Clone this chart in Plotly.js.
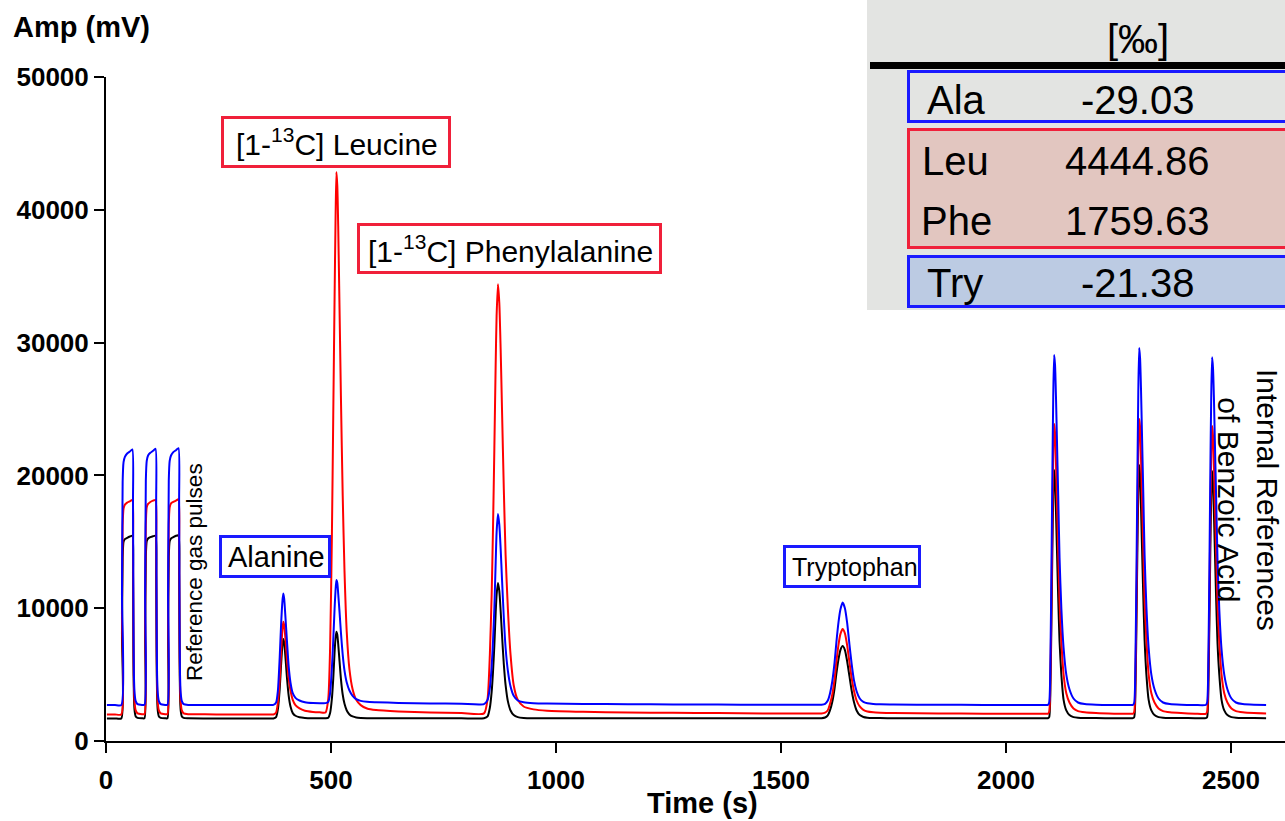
<!DOCTYPE html>
<html><head><meta charset="utf-8">
<script src="https://cdn.plot.ly/plotly-3.0.1.min.js"></script>
<style>html,body{margin:0;padding:0;background:#fff}</style>
</head><body><div id="chart" style="width:1285px;height:821px"></div>
<script>
// ---- data ----
const time = [
  2, 20,
  34, 35.5, 37, 39, 42, 47, 53, 58.5, 60, 61, 62, 63.5, 66, 70, 80,
  85.5, 87, 88.5, 90.5, 93.5, 98.5, 104.5, 110, 111.5, 112.5, 113.5, 115, 117.5, 121.5, 131.5,
  136.5, 138, 139.5, 141.5, 144.5, 149.5, 155.5, 161, 162.5, 163.5, 164.5, 166, 168.5, 172.5, 182.5,
  220, 270, 320, 366,
  372, 378, 382, 386, 389, 392, 394, 396, 399, 402, 406, 410, 415, 421, 430, 442, 460,
  475,
  488, 494, 498, 502, 505, 508, 510, 512, 514, 516, 519, 522, 526, 530, 535, 541, 548, 556, 566, 580, 600,
  650, 720, 790,
  840, 848, 853, 857, 860, 863, 866, 868, 871, 874, 877, 880, 884, 888, 893, 899, 906, 915, 928, 950, 980,
  1060, 1160, 1260, 1360, 1460, 1580,
  1590, 1598, 1604, 1609, 1614, 1619, 1623, 1628, 1632, 1637, 1642, 1647, 1652, 1657, 1662, 1668, 1675, 1683, 1692, 1705, 1720, 1750,
  1850, 1950, 2050, 2090,
  2093, 2096, 2099, 2101, 2103, 2105, 2107, 2109, 2111, 2113, 2116, 2119, 2123, 2128, 2134, 2141, 2150, 2160, 2175, 2200, 2240, 2280,
  2282, 2285, 2288, 2290, 2292, 2294, 2296, 2298, 2300, 2302, 2305, 2308, 2312, 2317, 2323, 2330, 2339, 2349, 2364, 2389, 2420,
  2444, 2447, 2450, 2452, 2454, 2456, 2458, 2460, 2462, 2464, 2467, 2470, 2474, 2479, 2485, 2492, 2501, 2511, 2526, 2551, 2578
];
const blue = [
  2720, 2710,
  2700, 11000, 19500, 21000, 21400, 21650, 21800, 21950, 18000, 9000, 5000, 3600, 3000, 2780, 2720,
  2720, 11000, 19600, 21100, 21500, 21700, 21850, 22000, 18000, 9000, 5000, 3600, 3000, 2780, 2720,
  2720, 11000, 19600, 21100, 21500, 21750, 21900, 22050, 18000, 9000, 5000, 3600, 3000, 2780, 2720,
  2720, 2710, 2710, 2710,
  2720, 2900, 3800, 6300, 8700, 10500, 11100, 10700, 9200, 7600, 5600, 4400, 3600, 3250, 3050, 2920, 2860,
  2850,
  2850, 2950, 3600, 5500, 7600, 10000, 11300, 12120, 11900, 11100, 9700, 8200, 6500, 5300, 4400, 3800, 3400, 3150, 3020, 2950, 2920,
  2870, 2830, 2800,
  2780, 3100, 4000, 5600, 7500, 10000, 13500, 15700, 17090, 16300, 14500, 12200, 9300, 7000, 5300, 4100, 3400, 3050, 2920, 2850, 2820,
  2790, 2770, 2750, 2740, 2730, 2730,
  2730, 2800, 3050, 3600, 4500, 5900, 7400, 9000, 9900, 10420, 10000, 8900, 7300, 5800, 4600, 3750, 3200, 2950, 2840, 2785, 2760, 2750,
  2730, 2720, 2710, 2710,
  2710, 2900, 7000, 13000, 20000, 26000, 29070, 28300, 26000, 23000, 18500, 13800, 10000, 7000, 5000, 3900, 3200, 2900, 2780, 2730, 2710, 2710,
  2710, 2900, 7000, 13000, 20000, 26300, 29590, 28800, 26500, 23400, 18800, 14000, 10100, 7000, 5000, 3900, 3200, 2900, 2780, 2730, 2710,
  2710, 2900, 7000, 13000, 20000, 25800, 28900, 28100, 25900, 22800, 18300, 13700, 9900, 6900, 5000, 3900, 3200, 2900, 2780, 2730, 2720
];
const red = [
  2000, 2000,
  2000, 9500, 16200, 17500, 17800, 17950, 18050, 18150, 14800, 7500, 4200, 2900, 2300, 2080, 2020,
  2020, 9500, 16300, 17600, 17850, 18000, 18100, 18150, 14800, 7500, 4200, 2900, 2300, 2080, 2020,
  2020, 9500, 16300, 17600, 17900, 18000, 18100, 18200, 14800, 7500, 4200, 2900, 2300, 2080, 2020,
  2010, 2000, 2000, 2000,
  2000, 2150, 2900, 4600, 6600, 8400, 8980, 8700, 7600, 6200, 4700, 3800, 3100, 2700, 2450, 2280, 2190,
  2160,
  2150, 3200, 7000, 15500, 24500, 33500, 39000, 42850, 41800, 38800, 32500, 26000, 18500, 12800, 8200, 5400, 3900, 3100, 2700, 2450, 2330,
  2230, 2150, 2100,
  2080, 3200, 6500, 11000, 16000, 22000, 28500, 32000, 34400, 33000, 29500, 25000, 19000, 14000, 10000, 6500, 4200, 3100, 2600, 2380, 2280,
  2200, 2150, 2120, 2100, 2080, 2070,
  2070, 2140, 2320, 2800, 3500, 4650, 5950, 7300, 8050, 8430, 8100, 7200, 5950, 4750, 3800, 3050, 2600, 2350, 2220, 2160, 2130, 2100,
  2080, 2060, 2050, 2050,
  2050, 2200, 5500, 10500, 16500, 21300, 23870, 23200, 21000, 18300, 14300, 10500, 7500, 5000, 3600, 2900, 2450, 2250, 2160, 2100, 2060, 2050,
  2050, 2200, 5500, 10600, 16700, 21600, 24250, 23600, 21300, 18600, 14500, 10600, 7600, 5000, 3600, 2900, 2450, 2250, 2160, 2100, 2060,
  2050, 2200, 5500, 10500, 16400, 21100, 23720, 23000, 20800, 18100, 14200, 10400, 7400, 5000, 3600, 2900, 2450, 2250, 2160, 2100, 2080
];
const black = [
  1700, 1700,
  1700, 8000, 13800, 15000, 15200, 15300, 15400, 15450, 12500, 6200, 3400, 2300, 1850, 1740, 1710,
  1710, 8000, 13900, 15050, 15250, 15350, 15420, 15450, 12500, 6200, 3400, 2300, 1850, 1740, 1710,
  1710, 8000, 13900, 15050, 15250, 15350, 15450, 15480, 12500, 6200, 3400, 2300, 1850, 1740, 1710,
  1700, 1700, 1700, 1700,
  1700, 1800, 2400, 3900, 5700, 7200, 7680, 7400, 6200, 4800, 3400, 2600, 2100, 1900, 1790, 1740, 1720,
  1715,
  1715, 1750, 2100, 3200, 4700, 6700, 7700, 8230, 8000, 7300, 6000, 4700, 3500, 2800, 2300, 2000, 1850, 1770, 1735, 1720, 1715,
  1712, 1710, 1710,
  1710, 1850, 2500, 3700, 5200, 7200, 9700, 11000, 11900, 11300, 9800, 8000, 5800, 4200, 3000, 2300, 1950, 1800, 1740, 1720, 1715,
  1715, 1715, 1715, 1715, 1715, 1715,
  1715, 1770, 1930, 2320, 2950, 3950, 5050, 6200, 6850, 7150, 6850, 6000, 4900, 3800, 2950, 2300, 1950, 1810, 1755, 1732, 1725, 1720,
  1720, 1715, 1715, 1715,
  1715, 1800, 4600, 9000, 14300, 18400, 20400, 19600, 17300, 14700, 10800, 7500, 5000, 3100, 2300, 1950, 1800, 1750, 1730, 1725, 1720, 1720,
  1720, 1800, 4600, 9100, 14500, 18700, 20780, 20000, 17600, 14900, 11000, 7600, 5000, 3100, 2300, 1950, 1800, 1750, 1730, 1725, 1720,
  1720, 1800, 4600, 9000, 14200, 18300, 20330, 19500, 17200, 14600, 10700, 7400, 5000, 3100, 2300, 1950, 1800, 1750, 1730, 1725, 1720
];
const xTickVals = [0, 500, 1000, 1500, 2000, 2500];
const yTickVals = [0, 10000, 20000, 30000, 40000, 50000];
const tableHeader = '[‰]';
const tableNames = ['Ala', 'Leu', 'Phe', 'Try'];
const tableValues = ['-29.03', '4444.86', '1759.63', '-21.38'];
const peakNames = ['[1-<sup>13</sup>C] Leucine', '[1-<sup>13</sup>C] Phenylalanine', 'Alanine', 'Tryptophan'];

// ---- layout helpers (pixel -> paper) ----
const L = 106, R = 1285, T = 77, B = 741;
const px = x => (x - L) / (R - L);
const py = y => (B - y) / (B - T);
const FONT = 'Liberation Sans, Arial, sans-serif';
const RED = '#f0203a', BLUE = '#1a1aff';

function rect(x0, y0, x1, y1, fill, line, lw) {
  return {type: 'rect', xref: 'paper', yref: 'paper', x0: px(x0), x1: px(x1), y0: py(y1), y1: py(y0),
    fillcolor: fill, line: {color: line || fill, width: lw || 0}, layer: 'above'};
}
function text(t, x, y, size, opts) {
  return Object.assign({text: t, xref: 'paper', yref: 'paper', x: px(x), y: py(y), showarrow: false,
    xanchor: 'center', yanchor: 'middle', font: {family: FONT, size: size, color: '#000'}}, opts || {});
}

const mk = (y, color) => ({x: time, y: y, type: 'scatter', mode: 'lines',
  line: {color: color, width: 2, shape: 'spline', smoothing: 0.6}, hoverinfo: 'skip'});
const traces = [mk(black, '#000000'), mk(red, '#ff0000'), mk(blue, '#0000ff')];

const shapes = [
  rect(867, 0, 1290, 310, '#e3e4e2'),
  rect(870, 62, 1290, 69, '#000000'),
  rect(908.5, 71.5, 1290, 121.5, '#e3e4e2', BLUE, 3),
  rect(908.5, 129.5, 1290, 247.5, '#e2c6c0', RED, 3),
  rect(908.5, 256.5, 1290, 306.5, '#bccbe3', BLUE, 3),
  rect(222.5, 117.5, 449.5, 166.5, '#ffffff', RED, 3),
  rect(358.5, 224.5, 660.5, 272.5, '#ffffff', RED, 3),
  rect(220.5, 536.5, 329.5, 576.5, '#ffffff', BLUE, 3),
  rect(784.5, 546.5, 919.5, 586.5, '#ffffff', BLUE, 3)
];

const bold = (s) => ({family: FONT, size: s, color: '#000', weight: 'bold'});
const annotations = [
  text('Amp (mV)', 11, 27, 29, {xanchor: 'left', font: bold(29)}),
  text('Time (s)', 702, 803, 29, {font: bold(29)}),
  text(peakNames[0], 337, 142, 30),
  text(peakNames[1], 510, 248.5, 30),
  text(peakNames[2], 276, 556.5, 29),
  text(peakNames[3], 855, 566.5, 25),
  text('Reference gas pulses', 194, 572, 22.5, {textangle: -90}),
  text('Internal References<br>of Benzoic Acid', 1248, 500, 30, {textangle: 90}),
  text(tableHeader, 1137.5, 39, 40),
  text(tableNames[0], 925, 100, 40, {xanchor: 'left'}),
  text(tableNames[1], 920, 161, 40, {xanchor: 'left'}),
  text(tableNames[2], 919, 221, 40, {xanchor: 'left'}),
  text(tableNames[3], 925, 283, 40, {xanchor: 'left'}),
  text(tableValues[0], 1137.5, 100, 40),
  text(tableValues[1], 1137.5, 161, 40),
  text(tableValues[2], 1137.5, 221, 40),
  text(tableValues[3], 1137.5, 283, 40)
];

const axisCommon = {showline: true, linecolor: '#000', linewidth: 2, ticks: 'outside', ticklen: 10,
  tickwidth: 2, tickcolor: '#000', showgrid: false, zeroline: false, fixedrange: true};

const layout = {
  width: 1285, height: 821, margin: {l: L, r: 1285 - R, t: T, b: 821 - B},
  paper_bgcolor: '#fff', plot_bgcolor: '#fff', showlegend: false, hovermode: false,
  xaxis: Object.assign({}, axisCommon, {range: [0, (R - L) / 0.45], tickvals: xTickVals,
    ticktext: xTickVals.map(String), ticklabelstandoff: 5, tickfont: bold(26)}),
  yaxis: Object.assign({}, axisCommon, {range: [0, 50000], tickvals: yTickVals,
    ticktext: yTickVals.map(String), ticklabelstandoff: 0, tickfont: bold(26)}),
  shapes: shapes, annotations: annotations
};
Plotly.newPlot('chart', traces, layout, {staticPlot: true, displayModeBar: false});
</script></body></html>
